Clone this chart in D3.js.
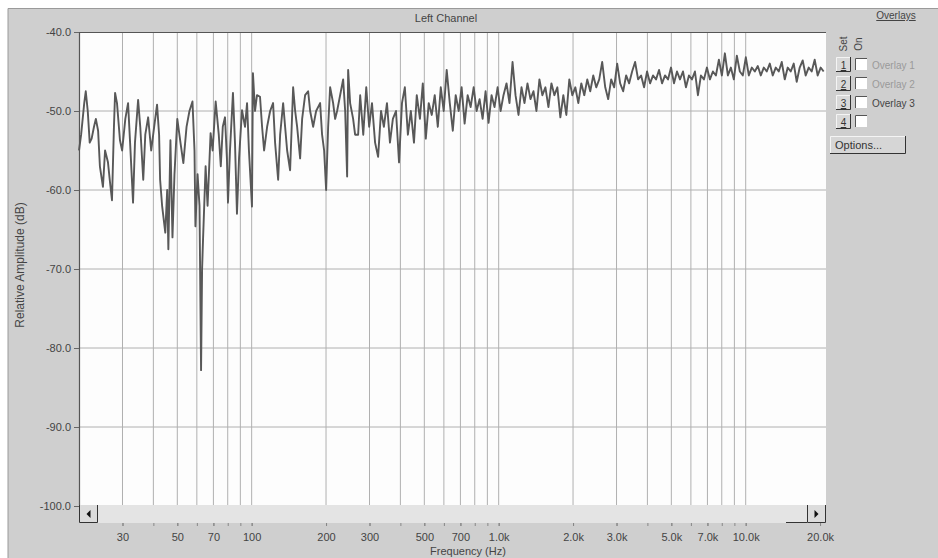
<!DOCTYPE html>
<html>
<head>
<meta charset="utf-8">
<script src="https://cdn.jsdelivr.net/npm/d3@7"></script>
<style>
body { margin: 0; background: #fff; }
svg text { font-family: "Liberation Sans", Arial, sans-serif; }
</style>
</head>
<body>
<div id="chart"></div>
<script>
// spectrum (Hz, dB)
const freqHz = [
  20.0, 20.4, 21.0, 21.3, 21.7, 22.1, 22.5, 23.0, 23.4, 23.9,
  24.3, 25.0, 25.5, 26.2, 26.7, 27.2, 27.7, 28.0, 28.5, 29.3,
  29.9, 30.8, 31.6, 32.2, 33.1, 33.7, 34.7, 35.4, 36.4, 37.1,
  38.1, 39.2, 40.3, 41.4, 42.2, 42.6, 43.4, 44.7, 45.5, 46.0,
  46.9, 47.8, 48.7, 50.0, 51.5, 52.9, 54.5, 56.0, 57.6, 58.7,
  59.2, 60.4, 61.5, 62.4, 63.0, 63.6, 65.1, 66.3, 68.2, 69.5,
  71.5, 73.6, 75.0, 76.4, 78.0, 79.4, 80.2, 81.7, 84.0, 85.6,
  87.2, 88.9, 91.4, 94.0, 95.8, 97.5, 100.3, 101.2, 103.2, 105.1,
  108.1, 110.2, 112.3, 115.5, 118.8, 122.1, 124.4, 128.0, 130.4, 134.1,
  136.6, 139.2, 143.1, 147.2, 150.0, 152.8, 157.1, 160.1, 164.6, 169.3,
  172.5, 177.4, 182.4, 189.3, 192.8, 196.5, 200.2, 204.0, 207.8, 213.7,
  217.7, 221.8, 228.1, 234.6, 239.1, 243.5, 245.8, 250.4, 257.5, 262.3,
  269.8,
  275, 283, 291, 299, 307, 316, 325, 334, 343, 353,
  363, 373, 384, 395, 406, 417, 429, 441, 454, 466,
  480, 493, 507, 521, 536, 551, 567, 583, 599, 616,
  634, 652, 670, 689, 708, 728, 749, 770, 792, 814,
  837, 861, 885, 910, 936, 962, 990, 1018, 1046, 1076,
  1106, 1138, 1170, 1203, 1237, 1272, 1308, 1345, 1383, 1422,
  1462, 1503, 1546, 1590, 1635, 1681, 1728, 1777, 1827, 1879,
  1932, 1987, 2043, 2101, 2160, 2221, 2284, 2348, 2415, 2483,
  2553, 2625, 2700, 2776, 2854, 2935, 3018, 3103, 3191, 3281,
  3374, 3469, 3567, 3668, 3772, 3878, 3988, 4101, 4217, 4336,
  4459, 4585, 4714, 4848, 4985, 5126, 5271, 5420, 5573, 5731,
  5893, 6060, 6231, 6407, 6589, 6775, 6967, 7164, 7366, 7575,
  7789, 8009, 8236, 8469, 8709, 8955, 9208, 9469, 9737, 10012,
  10296, 10587, 10887, 11195, 11512, 11837, 12172, 12517, 12871, 13235,
  13610, 13995, 14391, 14798, 15217, 15648, 16091, 16546, 17014, 17496,
  17991, 18500, 19024, 19562, 20116, 20685
];
const levelDb = [
  -55, -53, -49, -47.5, -50, -54, -53.5, -52, -51, -52.5,
  -57, -59.6, -55, -56.5, -59, -61.3, -52, -47.7, -49, -53.7,
  -55, -51, -49, -54, -61.6, -54, -48.6, -52, -58.7, -53,
  -50.8, -55, -52, -49.2, -53, -58.7, -62, -65.4, -60, -67.5,
  -53.7, -66, -58, -51, -54, -56.6, -52, -50, -48.8, -55,
  -64.6, -58, -62, -82.8, -70, -66, -57, -62, -52.8, -55,
  -48.8, -53, -57, -52, -50.8, -56, -61.6, -55, -47.7, -54,
  -63, -56, -49.9, -52, -49, -55, -62.1, -45.2, -50, -48,
  -48.2, -52, -55, -52, -50, -49, -54, -58.7, -53, -49,
  -52, -55, -57.5, -47, -50, -52, -56, -51, -48, -47.5,
  -50, -52, -50, -49, -53, -55, -60, -52, -47, -49,
  -51, -50, -48, -46, -50, -58.3, -44.8, -49, -51, -53,
  -53,
  -48, -53, -47, -52, -49, -54, -55.8, -50, -52, -49,
  -54, -51, -50, -56.5, -49, -47, -53, -50, -54, -48,
  -51, -46.5, -53.5, -49, -50.5, -48, -52, -47, -50, -44.8,
  -49, -52.5, -48, -50, -47, -51.6, -48, -49.5, -47, -50,
  -48.5, -51, -47.5, -51.5, -48, -49.5, -47, -50, -48, -46.5,
  -49, -43.8, -48, -50.5, -47, -49, -46.5, -48.5, -47.5, -50,
  -46, -48, -47, -49.5, -46.5, -48, -47, -50.8, -48, -50.5,
  -46, -48, -47, -49, -46.5, -48, -46, -47.5, -45.5, -47,
  -46, -43.8, -47, -48.5, -46, -47, -44, -46.5, -47.5, -45.5,
  -46.5, -45, -43.8, -46, -45.5, -47, -45, -46.5, -45.5, -46,
  -44.8, -46.5, -45.5, -46, -44.5, -46.5, -45, -46, -45, -47,
  -45.5, -46, -45, -48, -45.5, -46, -44.5, -46, -45, -45.5,
  -43.5, -45.5, -42.7, -45.5, -44.5, -46, -43, -45, -45.5, -43.2,
  -45.5, -44.5, -45, -44.3, -45.5, -44.5, -45, -44, -45.5, -44.5,
  -45, -43.8, -46, -44.5, -45, -44, -46.3, -44.5, -43.6, -45.5,
  -44.5, -45, -43.5, -45.5, -44.5, -45
];

const yTicks = [-40, -50, -60, -70, -80, -90, -100];
const xTicks = [30, 50, 70, 100, 200, 300, 500, 700, 1000, 2000, 3000, 5000, 7000, 10000, 20000];
const xTickLabels = ["30", "50", "70", "100", "200", "300", "500", "700", "1.0k", "2.0k", "3.0k", "5.0k", "7.0k", "10.0k", "20.0k"];
const gridFreqs = [30, 40, 50, 60, 70, 80, 90, 100, 200, 300, 400, 500, 600, 700, 800, 900,
  1000, 2000, 3000, 4000, 5000, 6000, 7000, 8000, 9000, 10000];
const overlayNames = ["Overlay 1", "Overlay 2", "Overlay 3", ""];

const width = 938, height = 558;
const plot = { left: 79, top: 32, right: 826, bottom: 505 };

const svg = d3.select("#chart").append("svg")
    .attr("width", width)
    .attr("height", height);

// window background
svg.append("rect").attr("x", 8).attr("y", 8).attr("width", width - 8).attr("height", height - 8)
    .attr("fill", "#cfcfcf");
svg.append("path").attr("d", `M8,${height}V8.5H${width}`)
    .attr("fill", "none").attr("stroke", "#9a9a9a");

const x = d3.scaleLog().domain([20, 21140]).range([plot.left, plot.right]);
const y = d3.scaleLinear().domain([-100, -40]).range([506, plot.top]);

// plot area
svg.append("rect")
    .attr("x", plot.left).attr("y", plot.top)
    .attr("width", plot.right - plot.left).attr("height", plot.bottom - plot.top)
    .attr("fill", "#fdfdfd");

// grid
svg.append("g").selectAll("line").data(gridFreqs).enter().append("line")
    .attr("x1", d => x(d)).attr("x2", d => x(d))
    .attr("y1", plot.top).attr("y2", plot.bottom)
    .attr("stroke", "#b0b0b0").attr("stroke-width", 1);
svg.append("g").selectAll("line").data(yTicks.slice(1, -1)).enter().append("line")
    .attr("x1", plot.left).attr("x2", plot.right)
    .attr("y1", d => y(d)).attr("y2", d => y(d))
    .attr("stroke", "#b0b0b0").attr("stroke-width", 1);

// spectrum line
const points = freqHz.map((f, i) => ({ f: f, db: levelDb[i] }));
svg.append("path")
    .datum(points)
    .attr("fill", "none")
    .attr("stroke", "#585858")
    .attr("stroke-width", 1.9)
    .attr("stroke-linejoin", "round")
    .attr("d", d3.line().x(d => x(d.f)).y(d => y(d.db)));

// plot frame (top and left dark)
svg.append("path")
    .attr("d", `M${plot.left + 0.5},${plot.bottom}V${plot.top + 0.5}H${plot.right}`)
    .attr("fill", "none").attr("stroke", "#555").attr("stroke-width", 1.2);

// scrollbar
const sb = { top: 505, bottom: 523 };
svg.append("rect").attr("x", plot.left).attr("y", sb.top)
    .attr("width", plot.right - plot.left).attr("height", sb.bottom - sb.top)
    .attr("fill", "#e4e4e4");
function scrollButton(bx, dir) {
    const g = svg.append("g").attr("transform", `translate(${bx},${sb.top})`);
    g.append("rect").attr("width", 19).attr("height", sb.bottom - sb.top).attr("fill", "#dcdcdc");
    g.append("path").attr("d", `M0.5,0V${sb.bottom - sb.top - 0.5}H18.5V0`)
        .attr("fill", "none").attr("stroke", "#333");
    const cx = 9.5, cy = (sb.bottom - sb.top) / 2;
    g.append("path")
        .attr("d", dir < 0 ? `M${cx - 2},${cy}L${cx + 2},${cy - 4}V${cy + 4}Z` : `M${cx + 2},${cy}L${cx - 2},${cy - 4}V${cy + 4}Z`)
        .attr("fill", "#111");
}
scrollButton(plot.left, -1);
scrollButton(plot.right - 19, 1);
svg.append("line").attr("x1", plot.right - 40).attr("x2", plot.right - 19)
    .attr("y1", sb.bottom - 0.5).attr("y2", sb.bottom - 0.5).attr("stroke", "#333");

// y axis
const yAxis = svg.append("g")
    .attr("transform", `translate(${plot.left},0)`)
    .call(d3.axisLeft(y).tickValues(yTicks).tickSize(5).tickPadding(3).tickFormat(d => d.toFixed(1)));
yAxis.select(".domain").remove();
yAxis.selectAll("line").attr("stroke", "#666");
yAxis.selectAll("text").attr("font-size", 11).attr("fill", "#444");

// x axis: small ticks at every grid frequency, labels on the main ones
const xMinor = svg.append("g")
    .attr("transform", `translate(0,${sb.bottom})`)
    .call(d3.axisBottom(x).tickValues(gridFreqs).tickSize(3).tickFormat(""));
xMinor.select(".domain").remove();
xMinor.selectAll("line").attr("stroke", "#888");

const xAxis = svg.append("g")
    .attr("transform", `translate(0,${sb.bottom})`)
    .call(d3.axisBottom(x).tickValues(xTicks).tickSize(3).tickPadding(7)
        .tickFormat((d, i) => xTickLabels[i]));
xAxis.select(".domain").remove();
xAxis.selectAll("line").attr("stroke", "#888");
xAxis.selectAll("text").attr("font-size", 11).attr("fill", "#444");

// titles
svg.append("text").attr("x", 446).attr("y", 22).attr("text-anchor", "middle")
    .attr("font-size", 11).attr("fill", "#444").text("Left Channel");
svg.append("text").attr("x", 468).attr("y", 555).attr("text-anchor", "middle")
    .attr("font-size", 11).attr("fill", "#444").text("Frequency (Hz)");
svg.append("text")
    .attr("transform", "translate(24,265) rotate(-90)")
    .attr("text-anchor", "middle")
    .attr("font-size", 12).attr("fill", "#444").text("Relative Amplitude (dB)");

// overlay panel
const panel = svg.append("g");
panel.append("text").attr("x", 896).attr("y", 19).attr("text-anchor", "middle")
    .attr("font-size", 10).attr("fill", "#444").attr("text-decoration", "underline").text("Overlays");
panel.append("text").attr("transform", "translate(847,44) rotate(-90)")
    .attr("text-anchor", "middle").attr("font-size", 10).attr("fill", "#444").text("Set");
panel.append("text").attr("transform", "translate(862,44) rotate(-90)")
    .attr("text-anchor", "middle").attr("font-size", 10).attr("fill", "#444").text("On");

const rowY = d3.range(overlayNames.length).map(i => 57 + i * 19);
overlayNames.forEach((name, i) => {
    const g = panel.append("g").attr("transform", `translate(0,${rowY[i]})`);
    g.append("rect").attr("x", 836).attr("y", 0).attr("width", 15).attr("height", 15).attr("fill", "#d8d8d8");
    g.append("path").attr("d", "M836.5,15V0.5H851").attr("fill", "none").attr("stroke", "#f4f4f4");
    g.append("path").attr("d", "M836,14.5H850.5V0").attr("fill", "none").attr("stroke", "#333");
    g.append("text").attr("x", 843.5).attr("y", 12).attr("text-anchor", "middle")
        .attr("font-size", 10).attr("fill", "#333").attr("text-decoration", "underline").text(i + 1);
    g.append("rect").attr("x", 855).attr("y", 1).attr("width", 12).attr("height", 12).attr("fill", "#fff");
    g.append("path").attr("d", "M855.5,13V1.5H867").attr("fill", "none").attr("stroke", "#555");
    g.append("text").attr("x", 872).attr("y", 12)
        .attr("font-size", 10).attr("fill", i === 2 ? "#444" : "#9a9a9a").text(name);
});

const opt = panel.append("g").attr("transform", "translate(830,136)");
opt.append("rect").attr("width", 76).attr("height", 18).attr("fill", "#d6d6d6");
opt.append("path").attr("d", "M0.5,18V0.5H76").attr("fill", "none").attr("stroke", "#f4f4f4");
opt.append("path").attr("d", "M0,17.5H75.5V0").attr("fill", "none").attr("stroke", "#333");
opt.append("text").attr("x", 5).attr("y", 13).attr("font-size", 11).attr("fill", "#333").text("Options...");
</script>
</body>
</html>
